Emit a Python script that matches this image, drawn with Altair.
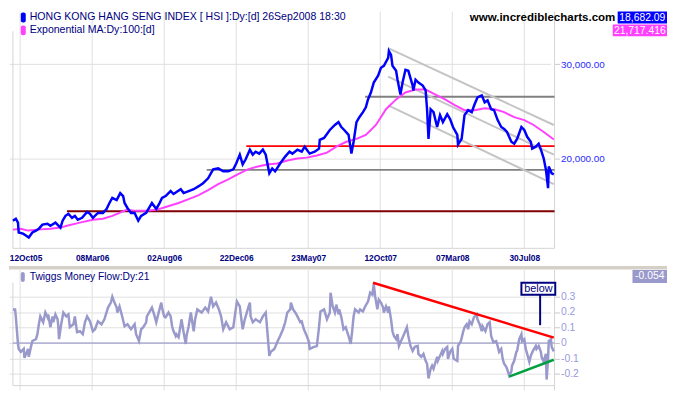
import altair as alt
import pandas as pd

# ---------------- data (trading-day index, values) ----------------
price_day = [0, 4, 7, 8, 14, 18, 22, 27, 32, 36, 41, 48, 52, 59, 66, 69, 73, 77, 82, 86, 90, 96, 103, 107, 111,
             118, 125, 130, 134, 138, 144, 149, 153, 155, 159, 164, 169, 174, 178, 185, 189, 193, 199, 203, 207,
             212, 219, 223, 233, 237, 244, 251, 258, 264, 271, 278, 285, 292, 299, 306, 310, 315, 319, 323, 329,
             333, 337, 342, 347, 351, 356, 360, 364, 371, 378, 384, 388, 395, 401, 405, 412, 419, 425, 426, 432,
             440, 447, 452, 456, 460, 466, 470, 473, 477, 481, 486, 490, 493, 497, 501, 507, 511, 515, 521, 522,
             525, 527, 532, 534, 538, 541, 545, 549, 555, 556, 559, 563, 569, 573, 575, 577, 580, 584, 589, 593,
             597, 603, 607, 611, 617, 618, 623, 627, 632, 637, 641, 645, 651, 655, 659, 664, 668, 673, 678, 682,
             686, 692, 696, 700, 706, 710, 714, 719, 721, 726, 730, 734, 737, 740, 743, 744, 748, 751]
price_val = [15310, 15440, 15180, 14550, 14480, 14360, 14240, 14550, 14670, 14790, 15050, 15110, 14980, 15180,
             14860, 15310, 15630, 15770, 15500, 15630, 15370, 15500, 15900, 15770, 15500, 15830, 15830, 16100,
             16520, 16880, 16730, 17240, 17020, 16520, 16170, 15830, 15830, 15310, 15630, 15830, 16170, 16520,
             16100, 16450, 16880, 17020, 17390, 17170, 17530, 17240, 17390, 17530, 17760, 17990, 18370, 19090,
             19170, 18930, 18930, 19090, 19580, 20340, 19500, 19920, 20780, 20340, 20600, 20430, 20780, 20340,
             18770, 19170, 18930, 19580, 20170, 20600, 20430, 20780, 20600, 21050, 20430, 20600, 20870, 21680,
             21860, 22620, 23110, 23400, 22910, 22620, 22150, 20430, 21500, 23400, 23900, 24420, 24940, 25800,
             26580, 27740, 28570, 29560, 29810, 30840, 31770, 31240, 29810, 29180, 28090, 26360, 27740, 29310,
             29180, 27380, 26810, 28090, 27740, 27380, 26810, 24730, 21770, 24730, 24420, 22910, 24110, 23400,
             24210, 23700, 22910, 22150, 21230, 21770, 24110, 24630, 24420, 25260, 26020, 26250, 25480, 25690,
             24730, 24630, 23600, 22910, 22720, 22430, 21500, 21320, 21770, 22910, 22620, 21960, 21500, 20870,
             21050, 21320, 20600, 20000, 19090, 17610, 19330, 18770, 18682]

ma_day = [0, 11, 21, 34, 52, 66, 75, 93, 111, 125, 138, 148, 158, 171, 185, 199, 212, 230, 244, 258, 271, 285,
          299, 312, 326, 340, 353, 367, 381, 395, 408, 422, 436, 449, 463, 477, 490, 504, 518, 532, 545, 559,
          573, 586, 600, 614, 627, 641, 655, 669, 682, 696, 710, 723, 737, 751]
ma_val = [14730, 14790, 14670, 14730, 14790, 14860, 14980, 15180, 15370, 15440, 15630, 15830, 16040, 15970,
          15970, 16040, 16240, 16520, 16800, 17090, 17460, 17910, 18290, 18690, 19090, 19330, 19500, 19580,
          19830, 20000, 20080, 20260, 20520, 21050, 21500, 21770, 22150, 23110, 24730, 25800, 26580, 26920,
          26920, 26360, 25800, 25150, 24630, 24630, 24840, 24730, 24420, 23900, 23600, 23110, 22430, 21717]

tmf_day = [0, 3, 4, 7, 8, 11, 15, 16, 21, 22, 25, 27, 32, 34, 36, 38, 42, 45, 48, 49, 52, 55, 56, 59, 62, 63, 64,
           67, 70, 74, 77, 79, 84, 86, 89, 93, 97, 100, 103, 107, 111, 114, 118, 123, 127, 132, 136, 138, 141,
           144, 145, 148, 152, 155, 159, 164, 169, 171, 175, 178, 181, 185, 186, 190, 193, 196, 199, 201, 206,
           207, 210, 212, 216, 219, 221, 223, 226, 227, 230, 233, 234, 237, 240, 241, 244, 247, 248, 251, 253,
           256, 262, 267, 271, 275, 278, 282, 286, 289, 292, 296, 301, 306, 308, 311, 315, 316, 319, 322, 326,
           329, 330, 333, 337, 343, 347, 351, 353, 356, 358, 363, 367, 371, 375, 378, 381, 385, 386, 389, 392,
           395, 399, 401, 404, 408, 411, 412, 418, 422, 425, 427, 432, 436, 440, 441, 444, 447, 449, 452, 453,
           456, 459, 462, 466, 469, 471, 473, 475, 480, 482, 486, 489, 493, 496, 499, 501, 503, 506, 508, 511,
           514, 515, 518, 521, 522, 525, 527, 529, 532, 534, 536, 540, 543, 547, 549, 552, 555, 558, 562, 563,
           567, 570, 573, 575, 577, 580, 582, 584, 586, 589, 590, 593, 596, 597, 600, 603, 604, 607, 610, 612,
           617, 618, 622, 625, 627, 630, 632, 634, 637, 640, 644, 645, 648, 651, 652, 656, 659, 662, 664, 667,
           671, 673, 675, 678, 680, 682, 685, 686, 689, 692, 693, 696, 699, 700, 703, 706, 707, 710, 712, 714,
           717, 719, 722, 726, 727, 730, 733, 734, 737, 740, 741, 743, 744, 747, 748, 751]
tmf_val = [0.217, 0.217, 0.172, -0.006, -0.038, -0.057, -0.038, -0.096, -0.038, -0.089, -0.025, 0.013, 0.025,
           0.057, 0.121, 0.172, 0.134, 0.197, 0.166, 0.185, 0.102, 0.172, 0.134, 0.185, 0.153, 0.108, 0.025,
           0.121, 0.197, 0.172, 0.185, 0.102, 0.121, 0.172, 0.070, 0.076, 0.057, 0.134, 0.172, 0.140, 0.076,
           0.089, 0.140, 0.121, 0.153, 0.229, 0.261, 0.299, 0.261, 0.229, 0.197, 0.236, 0.166, 0.108, 0.121,
           0.089, 0.121, 0.057, 0.013, 0.089, 0.102, 0.134, 0.172, 0.204, 0.229, 0.185, 0.134, 0.172, 0.261,
           0.229, 0.172, 0.166, 0.197, 0.172, 0.108, 0.076, 0.045, 0.057, 0.038, 0.121, 0.153, 0.070, -0.006,
           0.045, 0.108, 0.197, 0.166, 0.076, 0.153, 0.217, 0.197, 0.229, 0.204, 0.299, 0.236, 0.261, 0.217,
           0.172, 0.089, 0.134, 0.089, 0.102, 0.172, 0.268, 0.236, 0.197, 0.089, 0.153, 0.217, 0.261, 0.172,
           0.134, 0.153, 0.134, 0.172, 0.197, 0.089, -0.083, -0.057, -0.038, 0.006, 0.045, 0.089, 0.134, 0.197,
           0.217, 0.261, 0.217, 0.197, 0.172, 0.134, 0.140, 0.089, 0.045, 0.006, -0.038, -0.025, -0.019, 0.102,
           0.204, 0.217, 0.153, 0.197, 0.325, 0.236, 0.197, 0.248, 0.185, 0.217, 0.166, 0.089, 0.102, 0.045,
           -0.006, 0.076, 0.172, 0.217, 0.197, 0.217, 0.204, 0.236, 0.268, 0.325, 0.312, 0.382, 0.299, 0.217,
           0.280, 0.261, 0.229, 0.197, 0.236, 0.197, 0.236, 0.153, 0.076, 0.045, 0.025, 0.057, -0.019, 0.025,
           0.057, 0.102, 0.045, -0.019, -0.051, -0.025, -0.019, -0.070, -0.089, -0.070, -0.115, -0.134, -0.229,
           -0.166, -0.146, -0.166, -0.134, -0.089, -0.115, -0.083, -0.051, -0.070, -0.038, -0.025, -0.102,
           -0.057, -0.038, -0.102, -0.115, -0.019, 0.013, 0.070, 0.102, 0.121, 0.089, 0.140, 0.121, 0.166,
           0.185, 0.153, 0.121, 0.076, 0.108, 0.076, 0.121, 0.134, 0.045, 0.006, 0.013, -0.019, -0.057, -0.038,
           -0.102, -0.134, -0.153, -0.166, -0.210, -0.185, -0.146, -0.115, -0.057, -0.051, 0.025, 0.057, 0.013,
           0.025, -0.038, -0.070, -0.121, -0.083, -0.051, -0.019, -0.038, -0.019, -0.057, -0.089, -0.121,
           -0.070, -0.236, -0.102, 0.013, 0.025, -0.025, -0.054]

date_days = [10, 110, 210, 310, 410, 510, 610, 710]
date_labels = ["12Oct05", "08Mar06", "02Aug06", "22Dec06", "23May07", "12Oct07", "07Mar08", "30Jul08"]

level_val = [15950, 19050, 21100, 26100]
level_start = [75, 269, 324, 489]
level_color = ["#800000", "#808080", "#ff0000", "#808080"]

chan_start = [521, 521, 521]
chan_start_val = [32180, 28450, 25150]
chan_end = [751, 751, 751]
chan_end_val = [23110, 20340, 17910]

trend_start = [500, 689]
trend_start_val = [0.389, -0.217]
trend_end = [751, 751]
trend_end_val = [0.035, -0.108]
trend_color = ["#ff0000", "#00a040"]

price_ticks = [20000, 30000]
tmf_ticks = [-0.2, -0.1, 0, 0.1, 0.2, 0.3]

title_price = "HONG KONG HANG SENG INDEX [ HSI ]:Dy:[d]  26Sep2008 18:30"
title_ma = "Exponential MA:Dy:100:[d]"
title_tmf = "Twiggs Money Flow:Dy:21"
last_price = "18,682.09"
last_ma = "21,717.416"
last_tmf = "-0.054"

# ---------------- scales & axes ----------------
FONT = "Arial"
NAVY = "#000080"
GRID = "#e0e0e0"
BORDER = "#d4d4d4"
D0, D1 = 0, 752
P_LO, P_HI = 13590, 37650
T_LO, T_HI = -0.306, 0.471

xs = alt.Scale(domain=[D0, D1], range=[4, 553], nice=False, zero=False)
yp = alt.Scale(type="log", domain=[P_LO, P_HI], range=[240, 0], nice=False)
yt = alt.Scale(domain=[T_LO, T_HI], range=[384, 262], nice=False, zero=False)

lab_expr = " : ".join(f"datum.value == {d} ? '{l}'" for d, l in zip(date_days, date_labels)) + " : ''"
AX_X = alt.Axis(values=date_days, labelExpr=lab_expr, offset=-144, grid=False, ticks=False, domain=False,
                labelColor=NAVY, labelFont=FONT, labelFontSize=8.5, labelFontWeight="bold", labelPadding=5,
                labelFlush=8, labelFlushOffset=11, labelOverlap=False, title=None)
AX_P = alt.Axis(orient="right", values=price_ticks, format=",.2f", grid=True, gridColor=GRID, domain=False,
                tickColor="#c8c8c8", tickSize=5, labelColor="#2a2aff", labelFont=FONT, labelFontSize=10,
                labelPadding=1, title=None)
tmf_lab = ("datum.value == 0 ? '0' : (datum.value < 0 ? '-' + format(-datum.value, '.1f') "
           ": format(datum.value, '.1f'))")
AX_T = alt.Axis(orient="right", values=tmf_ticks, labelExpr=tmf_lab, grid=True, gridColor=GRID, domain=False,
                tickColor="#c8c8c8", tickSize=5, labelColor="#9a9adc", labelFont=FONT, labelFontSize=10.5,
                labelPadding=1, title=None)


def X(f):
    return alt.X(f, type="quantitative", scale=xs, axis=AX_X)


def YP(f):
    return alt.Y(f, type="quantitative", scale=yp, axis=AX_P)


def YT(f):
    return alt.Y(f, type="quantitative", scale=yt, axis=AX_T)


# ---------------- top panel ----------------
vg_top = pd.DataFrame({"d": date_days, "a": P_HI, "b": P_LO})
vgrid_top = alt.Chart(vg_top).mark_rule(color=GRID, strokeWidth=1).encode(
    x=X("d"), y=YP("a"), y2="b")

bt = pd.DataFrame({"x1": [0, D1, 0], "x2": [0, D1, D1],
                   "y1": [34590, P_HI, P_LO], "y2": [P_LO, P_LO, P_LO]})
border_top = alt.Chart(bt).mark_rule(color=BORDER, strokeWidth=1).encode(
    x=X("x1"), x2="x2", y=YP("y1"), y2="y2")

lv = pd.DataFrame({"d0": level_start, "d1": [D1] * len(level_val), "v": level_val, "c": level_color})
levels = alt.Chart(lv).mark_rule(strokeWidth=2).encode(
    x=X("d0"), x2="d1", y=YP("v"), color=alt.Color("c:N", scale=None))

ch = pd.DataFrame({"d0": chan_start, "d1": chan_end, "v0": chan_start_val, "v1": chan_end_val})
channel = alt.Chart(ch).mark_rule(color="#c4c4c4", strokeWidth=2).encode(
    x=X("d0"), x2="d1", y=YP("v0"), y2="v1")

ma_line = alt.Chart(pd.DataFrame({"d": ma_day, "v": ma_val})).mark_line(
    color="#ff40ff", strokeWidth=2).encode(x=X("d"), y=YP("v"))

price_line = alt.Chart(pd.DataFrame({"d": price_day, "p": price_val})).mark_line(
    color="#0000ff", strokeWidth=2.5).encode(x=X("d"), y=YP("p"))

top = alt.layer(vgrid_top, border_top, levels, channel, ma_line, price_line)

# ---------------- bottom panel ----------------
vg_bot = pd.DataFrame({"d": date_days, "a": T_HI, "b": T_LO})
vgrid_bot = alt.Chart(vg_bot).mark_rule(color=GRID, strokeWidth=1).encode(
    x=X("d"), y=YT("a"), y2="b")

bb = pd.DataFrame({"x1": [0, D1, 0], "x2": [0, D1, D1],
                   "y1": [0.389, T_HI, -0.275], "y2": [-0.275, T_LO, -0.275]})
border_bot = alt.Chart(bb).mark_rule(color=BORDER, strokeWidth=1).encode(
    x=X("x1"), x2="x2", y=YT("y1"), y2="y2")

zero = alt.Chart(pd.DataFrame({"d0": [D0], "d1": [D1], "v": [0.0]})).mark_rule(
    color="#8a8ac4", strokeWidth=1).encode(x=X("d0"), x2="d1", y=YT("v"))

tmf_line = alt.Chart(pd.DataFrame({"d": tmf_day, "v": tmf_val})).mark_line(
    color="#9999cc", strokeWidth=2.5).encode(x=X("d"), y=YT("v"))

tr = pd.DataFrame({"d0": trend_start, "d1": trend_end, "v0": trend_start_val, "v1": trend_end_val,
                   "c": trend_color})
trends = alt.Chart(tr).mark_rule(strokeWidth=2.5).encode(
    x=X("d0"), x2="d1", y=YT("v0"), y2="v1", color=alt.Color("c:N", scale=None))

stem = alt.Chart(pd.DataFrame({"d": [732], "v0": [0.312], "v1": [0.115]})).mark_rule(
    color=NAVY, strokeWidth=2).encode(x=X("d"), y=YT("v0"), y2="v1")
below_box = alt.Chart(pd.DataFrame({"d0": [706], "d1": [753], "v0": [0.389], "v1": [0.312]})).mark_rect(
    fill="white", stroke=NAVY, strokeWidth=2).encode(x=X("d0"), x2="d1", y=YT("v0"), y2="v1")
below_txt = alt.Chart(pd.DataFrame({"d": [729.5], "v": [0.350], "t": ["below"]})).mark_text(
    color=NAVY, font=FONT, fontSize=11).encode(x=X("d"), y=YT("v"), text="t:N")

bottom = alt.layer(vgrid_bot, border_bot, zero, tmf_line, trends, stem, below_box, below_txt)


# ---------------- decorations ----------------
def label(text, x, y, **kw):
    return alt.Chart(pd.DataFrame({"t": [text]})).mark_text(**kw).encode(
        x=alt.value(x), y=alt.value(y), text="t:N")


def box(x1, x2, y1, y2, **kw):
    return alt.Chart(pd.DataFrame({"k": [0]})).mark_rect(**kw).encode(
        x=alt.value(x1), x2=alt.value(x2), y=alt.value(y1), y2=alt.value(y2))


deco = [
    box(0, 667, 258, 261.5, color="#d4d0c8"),
    box(12, 17, 1, 11, color="#0000ff", cornerRadius=2),
    label(title_price, 21, 1, align="left", baseline="top", font=FONT, fontSize=10.7, color=NAVY),
    box(12, 17, 14, 24, color="#ff40ff", cornerRadius=2),
    label(title_ma, 21, 14, align="left", baseline="top", font=FONT, fontSize=10.7, color=NAVY),
    label("www.incrediblecharts.com", 467, 1, align="left", baseline="top", font=FONT, fontSize=11.7,
          fontWeight="bold", color="black"),
    box(617, 667, 0, 12, color="#0000ff"),
    label(last_price, 642, 6.5, align="center", baseline="middle", font=FONT, fontSize=10.5, color="white"),
    box(612, 667, 13, 25, color="#ff40ff"),
    label(last_ma, 639.5, 19.5, align="center", baseline="middle", font=FONT, fontSize=10.5, color="white"),
    box(12, 16, 264, 274, color="#9999cc", cornerRadius=2),
    label(title_tmf, 21, 269, align="left", baseline="middle", font=FONT, fontSize=10.4, color=NAVY),
    box(632, 667, 262, 275, color="#9999cc"),
    label(last_tmf, 649.5, 268.5, align="center", baseline="middle", font=FONT, fontSize=10.5, color="white"),
]

chart = alt.layer(top, bottom, *deco).resolve_scale(y="independent").properties(
    width=553, height=384, padding=0
).configure_view(stroke=None)

chart.save("out.html", embed_options={"renderer": "svg", "actions": False})
